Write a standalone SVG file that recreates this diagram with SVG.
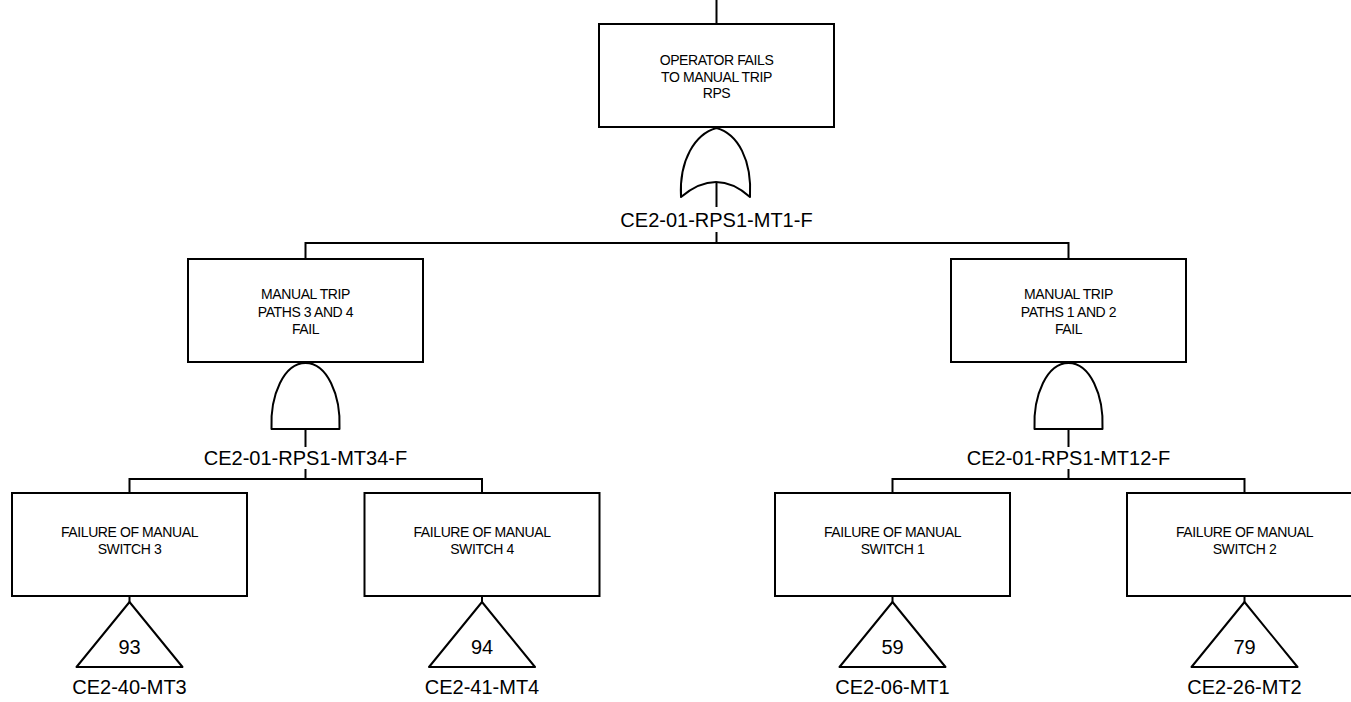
<svg xmlns="http://www.w3.org/2000/svg" width="1351" height="702" viewBox="0 0 1351 702">
<style>
  .box { fill: #ffffff; stroke: #000000; stroke-width: 2; }
  .gate { fill: #ffffff; stroke: #000000; stroke-width: 2; stroke-linejoin: round; }
  .ln { fill: none; stroke: #000000; stroke-width: 2; }
  .desc { font-family: "Liberation Sans", Arial, sans-serif; font-size: 14px; letter-spacing: -0.4px; text-anchor: middle; fill: #000000; }
  .lbl { font-family: "Liberation Sans", Arial, sans-serif; font-size: 20px; text-anchor: middle; fill: #000000; }
  .num { font-family: "Liberation Sans", Arial, sans-serif; font-size: 20px; text-anchor: middle; fill: #000000; }
</style>
<rect width="1351" height="702" fill="#ffffff"/>

<g id="connectors">
  <path class="ln" d="M716.5,0 V24"/>
  <path class="ln" d="M716.5,182 V207"/>
  <path class="ln" d="M716.5,232 V243"/>
  <path class="ln" d="M305.5,259 V243 H1068.5 V259"/>
  <path class="ln" d="M305.5,429 V447"/>
  <path class="ln" d="M305.5,469 V479"/>
  <path class="ln" d="M129.5,493 V479 H482 V493"/>
  <path class="ln" d="M1068.5,429 V447"/>
  <path class="ln" d="M1068.5,469 V479"/>
  <path class="ln" d="M892.5,493 V479 H1244.5 V493"/>
  <path class="ln" d="M129.5,596 V602"/>
  <path class="ln" d="M482,596 V602"/>
  <path class="ln" d="M892.5,596 V602"/>
  <path class="ln" d="M1244.5,596 V602"/>
</g>

<g id="top-event">
  <rect class="box" x="599" y="24" width="235" height="103"/>
  <text class="desc" x="716.5" y="65">OPERATOR FAILS</text>
  <text class="desc" x="716.5" y="81.5">TO MANUAL TRIP</text>
  <text class="desc" x="716.5" y="98">RPS</text>
</g>

<g id="gate-mt1">
  <path class="gate" d="M681,197 C679,160 695,134 716.5,128 C738,134 752,160 750,197 Q716.5,167 681,197 Z"/>
  <text class="lbl" x="716.5" y="227">CE2-01-RPS1-MT1-F</text>
</g>

<g id="event-mt34">
  <rect class="box" x="188" y="259" width="235" height="103"/>
  <text class="desc" x="305.5" y="299">MANUAL TRIP</text>
  <text class="desc" x="305.5" y="316.5">PATHS 3 AND 4</text>
  <text class="desc" x="305.5" y="334">FAIL</text>
</g>

<g id="gate-mt34">
  <path class="gate" d="M271.5,429 C270,395 284,363 305.5,363 C327,363 341,395 339.5,429 Z"/>
  <text class="lbl" x="305.5" y="465">CE2-01-RPS1-MT34-F</text>
</g>

<g id="event-mt12">
  <rect class="box" x="951" y="259" width="235" height="103"/>
  <text class="desc" x="1068.5" y="299">MANUAL TRIP</text>
  <text class="desc" x="1068.5" y="316.5">PATHS 1 AND 2</text>
  <text class="desc" x="1068.5" y="334">FAIL</text>
</g>

<g id="gate-mt12">
  <path class="gate" d="M1034.5,429 C1033,395 1047,363 1068.5,363 C1090,363 1104,395 1102.5,429 Z"/>
  <text class="lbl" x="1068.5" y="465">CE2-01-RPS1-MT12-F</text>
</g>

<g id="event-mt3">
  <rect class="box" x="12" y="493" width="235" height="103"/>
  <text class="desc" x="129.5" y="537">FAILURE OF MANUAL</text>
  <text class="desc" x="129.5" y="554">SWITCH 3</text>
  <path class="gate" d="M129.5,602 L182.5,667 L76.5,667 Z"/>
  <text class="num" x="129.5" y="654">93</text>
  <text class="lbl" x="129.5" y="694">CE2-40-MT3</text>
</g>

<g id="event-mt4">
  <rect class="box" x="364.5" y="493" width="235" height="103"/>
  <text class="desc" x="482" y="537">FAILURE OF MANUAL</text>
  <text class="desc" x="482" y="554">SWITCH 4</text>
  <path class="gate" d="M482,602 L535,667 L429,667 Z"/>
  <text class="num" x="482" y="654">94</text>
  <text class="lbl" x="482" y="694">CE2-41-MT4</text>
</g>

<g id="event-mt1">
  <rect class="box" x="775" y="493" width="235" height="103"/>
  <text class="desc" x="892.5" y="537">FAILURE OF MANUAL</text>
  <text class="desc" x="892.5" y="554">SWITCH 1</text>
  <path class="gate" d="M892.5,602 L945.5,667 L839.5,667 Z"/>
  <text class="num" x="892.5" y="654">59</text>
  <text class="lbl" x="892.5" y="694">CE2-06-MT1</text>
</g>

<g id="event-mt2">
  <rect class="box" x="1127" y="493" width="235" height="103"/>
  <text class="desc" x="1244.5" y="537">FAILURE OF MANUAL</text>
  <text class="desc" x="1244.5" y="554">SWITCH 2</text>
  <path class="gate" d="M1244.5,602 L1297.5,667 L1191.5,667 Z"/>
  <text class="num" x="1244.5" y="654">79</text>
  <text class="lbl" x="1244.5" y="694">CE2-26-MT2</text>
</g>
</svg>
